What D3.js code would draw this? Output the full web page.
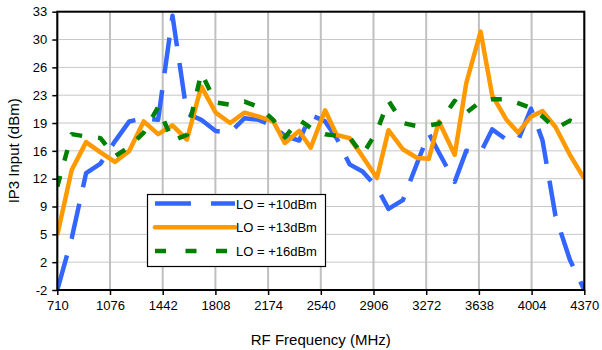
<!DOCTYPE html>
<html>
<head>
<meta charset="utf-8">
<script src="https://cdn.jsdelivr.net/npm/d3@7"></script>
<style>
  body { margin: 0; background: #fff; }
  text { font-family: "Liberation Sans", Arial, sans-serif; fill: #000; }
</style>
</head>
<body>
<div id="chart"></div>
<script>
// chart data
var freqs = [710, 810, 910, 1010, 1110, 1210, 1310, 1410, 1510, 1610,
  1710, 1810, 1910, 2010, 2110, 2210, 2290, 2390, 2470, 2570,
  2650, 2740, 2830, 2930, 3010, 3110, 3210, 3290, 3360, 3470,
  3550, 3650, 3730, 3830, 3910, 4000, 4080, 4170, 4270, 4370];

var lo10 = [-2.0, 4.5, 12.7, 13.9, 16.7, 19.2, 19.6, 19.4, 32.5, 20.2,
  19.4, 18.0, 17.8, 19.6, 19.4, 18.6, 17.4, 16.8, 20.0, 19.2,
  17.1, 13.8, 12.9, 10.9, 8.2, 9.3, 14.0, 17.7, 15.3, 11.6,
  15.5, 15.3, 18.2, 16.9, 16.8, 20.8, 16.8, 7.3, 1.8, -2.0];

var lo13 = [4.9, 13.1, 16.6, 15.3, 14.1, 15.5, 19.2, 17.6, 18.7, 16.9,
  23.6, 20.3, 19.0, 20.3, 19.8, 19.2, 16.5, 18.0, 15.9, 20.6,
  17.5, 17.1, 14.8, 12.1, 18.1, 15.7, 14.6, 14.5, 19.2, 15.0,
  24.0, 30.5, 22.5, 19.4, 17.8, 19.8, 20.5, 18.5, 15.0, 12.0];

var lo16 = [11.0, 17.6, 17.3, 17.1, 14.8, 16.0, 17.8, 21.0, 16.8, 17.5,
  25.3, 21.6, 21.3, 21.7, 21.0, 19.4, 17.2, 19.4, 18.4, 17.6,
  17.4, 17.2, 15.0, 18.0, 21.8, 19.0, 18.6, 18.7, 18.9, 21.8,
  20.3, 21.7, 22.0, 22.0, 21.5, 20.9, 19.8, 18.3, 19.3, 18.6];

var seriesNames = ["LO = +10dBm", "LO = +13dBm", "LO = +16dBm"];

var xTicks = [710, 1076, 1442, 1808, 2174, 2540, 2906, 3272, 3638, 4004, 4370];
var yTicks = [-2, 1.5, 5, 8.5, 12, 15.5, 19, 22.5, 26, 29.5, 33];
var yTickLabels = ["-2", "2", "5", "9", "12", "16", "19", "23", "26", "30", "33"];

// svg size and plot margins
var svgWidth = 602;
var svgHeight = 350;

var margin = { top: 11.7, right: 17.7, bottom: 60, left: 57.3 };
var width = svgWidth - margin.left - margin.right;
var height = svgHeight - margin.top - margin.bottom;

var svg = d3.select("#chart")
  .append("svg")
  .attr("width", svgWidth)
  .attr("height", svgHeight);

var chartGroup = svg.append("g")
  .attr("transform", `translate(${margin.left}, ${margin.top})`);

// scales
var xScale = d3.scaleLinear().domain([710, 4370]).range([0, width]);
var yScale = d3.scaleLinear().domain([-2, 33]).range([height, 0]);

// gridlines
chartGroup.append("g")
  .selectAll("line")
  .data(yTicks)
  .enter()
  .append("line")
  .attr("x1", 0)
  .attr("x2", width)
  .attr("y1", d => yScale(d))
  .attr("y2", d => yScale(d))
  .attr("stroke", "#c8c8c8")
  .attr("stroke-width", 1);

chartGroup.append("g")
  .selectAll("line")
  .data(xTicks)
  .enter()
  .append("line")
  .attr("x1", d => xScale(d))
  .attr("x2", d => xScale(d))
  .attr("y1", 0)
  .attr("y2", height)
  .attr("stroke", "#c0c0c0")
  .attr("stroke-width", 2);

// clip lines to the plot area
svg.append("defs").append("clipPath")
  .attr("id", "plotClip")
  .append("rect")
  .attr("width", width)
  .attr("height", height);

var lineGen = d3.line()
  .x(d => xScale(d[0]))
  .y(d => yScale(d[1]));

var series = [
  { name: seriesNames[0], values: lo10, color: "#3366ff", dash: "36,17" },
  { name: seriesNames[1], values: lo13, color: "#ff9900", dash: null },
  { name: seriesNames[2], values: lo16, color: "#008000", dash: "11,16" }
];

var linesGroup = chartGroup.append("g").attr("clip-path", "url(#plotClip)");

series.forEach(function(s) {
  linesGroup.append("path")
    .datum(d3.zip(freqs, s.values))
    .attr("d", lineGen)
    .attr("fill", "none")
    .attr("stroke", s.color)
    .attr("stroke-width", 4.5)
    .attr("stroke-linejoin", "round")
    .attr("stroke-dasharray", s.dash);
});

// plot frame
chartGroup.append("rect")
  .attr("width", width)
  .attr("height", height)
  .attr("fill", "none")
  .attr("stroke", "#000")
  .attr("stroke-width", 2);

// axes
var leftAxis = d3.axisLeft(yScale)
  .tickValues(yTicks)
  .tickFormat((d, i) => yTickLabels[i])
  .tickSize(5)
  .tickPadding(5);

var bottomAxis = d3.axisBottom(xScale)
  .tickValues(xTicks)
  .tickFormat(d3.format("d"))
  .tickSize(5)
  .tickPadding(6);

var yAxis = chartGroup.append("g").call(leftAxis);
var xAxis = chartGroup.append("g")
  .attr("transform", `translate(0, ${height})`)
  .call(bottomAxis);

[xAxis, yAxis].forEach(function(ax) {
  ax.select(".domain").remove();
  ax.selectAll(".tick line").attr("stroke", "#000").attr("stroke-width", 1.5);
  ax.selectAll(".tick text")
    .attr("font-size", 13)
    .style("font-family", "'Liberation Sans', Arial, sans-serif");
});

// axis titles
svg.append("text")
  .attr("x", margin.left + width / 2)
  .attr("y", 345)
  .attr("text-anchor", "middle")
  .attr("font-size", 15)
  .text("RF Frequency (MHz)");

svg.append("text")
  .attr("transform", `translate(19, ${margin.top + height / 2}) rotate(-90)`)
  .attr("text-anchor", "middle")
  .attr("font-size", 15)
  .text("IP3 Input (dBm)");

// legend
var legend = svg.append("g").attr("transform", "translate(147.5, 194.5)");

legend.append("rect")
  .attr("width", 178)
  .attr("height", 72)
  .attr("fill", "#fff")
  .attr("stroke", "#000")
  .attr("stroke-width", 1.2);

var legendDash = ["36,20", null, "11,19.5"];

series.forEach(function(s, i) {
  var ly = 9 + i * 23.7;
  legend.append("line")
    .attr("x1", 7.5)
    .attr("x2", 87.5)
    .attr("y1", ly)
    .attr("y2", ly)
    .attr("stroke", s.color)
    .attr("stroke-width", 4.5)
    .attr("stroke-linecap", s.dash ? "butt" : "round")
    .attr("stroke-dasharray", legendDash[i]);
  legend.append("text")
    .attr("x", 88.5)
    .attr("y", ly + 5)
    .attr("font-size", 13)
    .text(s.name);
});
</script>
</body>
</html>
